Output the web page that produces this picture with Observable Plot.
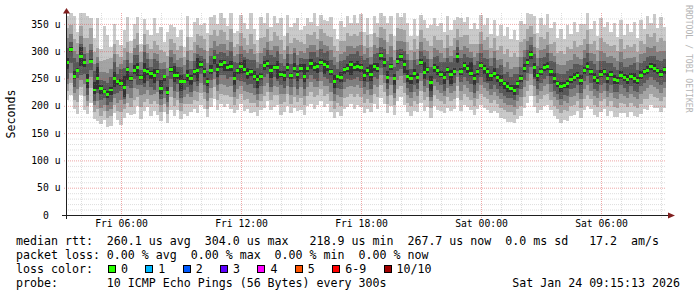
<!DOCTYPE html>
<html>
<head>
<meta charset="utf-8">
<script src="https://cdn.jsdelivr.net/npm/d3@7"></script>
<script src="https://cdn.jsdelivr.net/npm/@observablehq/plot@0.6"></script>
<style>
html, body { margin: 0; padding: 0; background: #fff; overflow: hidden; }
#wrap { position: relative; width: 697px; height: 297px; font-family: "DejaVu Sans Mono", monospace; color: #000; }
#chart { position: absolute; left: 0; top: 0; }
#ylabel { position: absolute; left: -19.5px; top: 107.5px; width: 60px; height: 12px; line-height: 12px; font-size: 11.626px; text-align: center; transform: rotate(-90deg); white-space: pre; }
#wm { position: absolute; left: 693px; top: 5px; font-size: 8.15px; line-height: 8.15px; color: #b4b4b4; transform-origin: 0 0; transform: rotate(90deg); white-space: pre; }
#legend { position: absolute; left: 16px; top: 233.7px; font-size: 11.626px; line-height: 14px; white-space: pre; }
#legend div { height: 14px; }
.sq { display: inline-block; width: 8px; height: 8px; box-sizing: border-box; border: 1px solid #000; margin-left: 1px; margin-right: 5px; }
.lab { margin-right: 16.4px; }
</style>
</head>
<body>
<div id="wrap">
  <div id="chart"></div>
  <div id="ylabel">Seconds</div>
  <div id="wm">RRDTOOL / TOBI OETIKER</div>
  <div id="legend"></div>
</div>
<script>
// ---- time axis (hours since Fri 00:00), 10-minute steps ----
const startHour = 3.25;        // Fri 03:15
const stepMinutes = 10;

// ---- median RTT (microseconds), one per step ----
const median = [
280,304,253,265,291,280,247,282,229,250,
232,226,220,229,250,244,241,234,266,250,
265,271,252,265,263,260,255,262,232,253,
225,266,255,256,245,245,256,250,262,265,
276,262,245,265,288,267,276,280,271,272,
250,265,272,266,260,262,253,249,254,274,
278,265,271,270,258,255,271,255,268,257,
268,254,268,278,270,272,280,276,272,262,
245,253,252,266,268,276,270,272,270,256,
265,257,272,268,292,280,252,272,250,282,
290,276,254,250,259,252,280,261,266,242,
270,265,258,252,266,258,262,290,262,274,
268,260,250,262,273,268,262,255,260,252,
246,240,236,232,228,240,250,268,280,294,
270,255,262,270,272,262,250,240,235,238,
240,248,252,256,246,265,272,262,252,246,
258,262,250,258,248,246,256,252,248,254,
250,246,255,262,265,272,268,264,258,266
];

// ---- smoke: distance (microseconds) of the 10 sorted pings from the median,
//      [below: p1, p2, p3, p4, p5, above: p6, p7, p8, p9, p10] per step ----
const spread = [
[70,52,40,30,12,8,26,44,62,84],[84,62,44,26,6,4,12,28,44,66],[58,42,30,18,4,10,34,48,70,112],
[80,58,34,14,3,4,16,30,50,70],[72,56,44,34,18,16,22,36,56,80],[88,62,40,22,8,5,14,28,44,90],
[62,48,38,28,14,12,30,50,78,118],[76,50,30,16,4,3,20,32,60,78],[54,40,28,20,8,14,34,48,70,96],
[78,56,42,26,20,22,28,40,56,110],[66,50,36,22,10,6,16,30,50,72],[52,36,24,12,3,4,20,36,58,120],
[58,42,30,18,6,8,22,40,66,110],[66,48,34,22,10,6,24,38,58,78],[64,48,36,28,16,12,30,44,64,100],
[70,54,38,20,5,4,14,28,50,76],[76,52,30,14,4,8,26,36,48,70],[56,40,30,22,18,20,36,50,72,104],
[80,60,44,30,18,6,18,32,50,96],[66,52,36,18,4,4,12,28,46,68],[80,54,32,16,6,10,28,40,58,84],
[72,54,40,32,16,8,22,40,62,92],[76,54,32,14,4,4,14,28,46,62],[74,58,44,30,24,14,34,46,66,94],
[66,50,34,18,6,6,22,34,50,76],[78,56,40,26,10,4,12,26,44,70],[64,46,34,26,14,12,30,42,64,106],
[78,58,36,16,4,6,20,32,50,72],[60,44,30,20,10,16,36,46,70,112],[64,50,38,26,8,4,14,28,46,64],
[56,40,28,18,6,10,30,44,66,110],[74,50,32,16,4,6,24,36,56,82],[74,56,40,28,12,18,24,40,60,90],
[64,46,30,16,6,6,16,28,46,70],[70,54,40,30,18,12,26,42,64,94],[60,42,28,16,4,4,14,30,44,62],
[74,52,34,22,10,10,28,44,70,108],[62,46,34,24,12,6,18,32,52,76],[68,52,34,18,6,6,20,34,54,92],
[78,56,40,28,20,22,30,46,66,96],[74,52,34,18,6,6,16,30,52,72],[68,50,36,24,10,8,24,40,60,90],
[66,50,36,22,8,6,18,34,56,88],[68,50,32,18,6,10,26,40,64,98],[76,54,38,26,12,4,14,30,50,78],
[74,56,40,28,14,10,28,42,60,82],[72,54,36,20,6,8,22,38,62,96],[82,60,42,24,16,4,16,34,56,80],
[68,52,36,22,8,6,20,32,50,76],[78,56,36,20,8,10,28,44,68,98],[64,48,34,24,12,12,30,42,58,84],
[72,52,34,18,6,4,14,30,48,72],[68,50,36,26,14,8,22,38,62,94],[76,56,38,22,6,18,24,36,58,86],
[66,48,34,22,10,10,26,36,52,80],[76,56,38,22,8,6,22,42,70,108],[64,48,34,20,6,10,30,42,60,88],
[68,52,38,28,16,8,20,32,48,72],[62,46,32,18,6,6,22,42,70,108],[78,56,38,22,8,8,18,32,52,78],
[70,52,36,20,6,6,24,38,62,96],[72,54,40,30,14,10,28,38,54,80],[74,52,34,18,6,4,18,38,64,94],
[68,50,36,24,20,12,30,40,58,82],[74,54,36,20,6,6,20,36,62,102],[66,48,34,22,10,8,18,30,48,72],
[72,50,34,20,8,8,24,38,62,96],[68,52,36,20,6,6,22,40,60,90],[72,52,34,18,6,10,28,38,56,84],
[66,50,38,26,12,6,18,36,64,104],[76,54,34,18,6,8,20,32,48,70],[70,52,36,24,10,22,32,42,60,92],
[68,50,34,18,6,4,18,38,64,92],[74,52,34,22,10,8,20,34,52,76],[76,54,36,20,6,10,28,42,66,100],
[70,52,38,26,12,6,18,30,50,74],[72,50,34,18,6,6,24,38,60,86],[78,58,40,24,18,8,20,36,58,82],
[68,50,36,22,8,10,28,38,56,84],[74,54,36,20,6,6,22,40,64,100],[68,50,36,24,12,12,30,44,64,96],
[64,48,34,20,6,4,14,28,48,70],[70,52,36,22,8,10,30,42,66,104],[72,52,36,22,8,6,18,32,52,78],
[70,52,34,18,6,8,24,42,66,96],[72,54,40,28,20,6,18,34,52,76],[76,54,36,20,6,8,24,36,62,96],
[70,50,34,20,8,10,28,38,56,80],[72,54,38,24,8,6,22,42,66,98],[70,50,34,22,10,10,28,38,54,80],
[70,52,36,22,8,6,22,40,64,96],[68,52,38,26,12,18,20,32,50,74],[68,50,34,20,8,6,22,40,62,92],
[74,52,34,18,6,10,28,38,58,84],[78,54,36,22,8,4,16,32,52,78],[76,54,38,24,8,8,24,40,60,84],
[66,48,34,22,10,12,30,42,64,100],[72,52,34,20,6,4,18,38,60,92],[66,48,36,26,12,8,22,34,52,78],
[74,52,34,18,6,6,20,36,60,88],[74,54,36,22,8,4,14,28,50,72],[74,52,34,20,16,8,24,40,62,94],
[66,48,34,22,10,12,30,40,62,98],[68,50,36,24,10,6,18,34,52,78],[68,50,34,20,6,8,24,40,64,100],
[64,48,34,22,10,8,22,34,52,76],[74,52,34,20,6,6,20,36,58,86],[70,50,36,24,12,20,30,42,64,96],
[68,50,34,18,6,6,20,34,52,76],[64,46,34,26,14,12,30,44,68,106],[70,50,34,20,8,6,20,36,58,90],
[72,52,36,22,8,8,26,38,56,82],[68,50,34,20,6,6,22,38,62,94],[66,48,34,24,12,10,28,36,54,84],
[70,50,34,18,6,6,22,40,64,98],[68,50,34,22,18,8,22,34,52,80],[68,50,34,20,6,8,26,40,62,96],
[76,54,38,26,12,6,18,30,50,72],[72,52,34,18,6,8,26,40,64,98],[72,52,36,22,8,6,20,36,56,80],
[70,52,36,22,8,6,22,38,62,94],[68,50,34,20,6,20,28,38,54,80],[66,50,36,26,12,8,24,40,64,102],
[68,50,34,20,6,6,20,34,52,78],[72,52,34,20,6,8,24,40,62,94],[72,52,36,24,10,6,20,34,52,80],
[70,50,34,20,16,8,24,40,64,98],[68,50,36,24,10,6,18,32,50,76],[70,50,34,22,8,10,28,40,64,98],
[66,48,34,22,8,6,18,32,50,76],[68,50,34,22,10,10,28,40,64,102],[64,48,34,22,10,6,18,32,54,88],
[66,48,34,22,10,8,26,44,68,108],[62,44,30,18,6,6,20,36,58,90],[60,44,30,18,8,10,30,44,68,110],
[64,46,32,20,8,6,18,32,50,80],[68,50,34,20,6,6,22,40,66,106],[72,52,34,20,6,8,22,34,54,82],
[74,52,34,20,6,6,22,38,60,92],[76,56,36,22,8,6,18,32,52,74],[72,52,34,20,18,8,24,38,62,94],
[68,50,36,24,10,6,18,32,50,78],[70,50,34,20,6,8,26,40,64,98],[70,50,34,20,6,6,20,34,52,78],
[70,50,32,18,6,8,24,40,64,96],[70,52,36,22,8,6,20,34,52,80],[68,50,34,22,8,10,30,42,66,104],
[64,46,30,18,6,6,20,36,56,84],[66,48,34,22,10,8,24,40,66,106],[64,46,30,18,6,6,20,36,56,84],
[68,50,34,22,8,8,24,42,68,108],[66,48,32,18,6,6,20,36,56,84],[68,50,34,20,6,8,24,42,66,102],
[66,48,32,18,6,6,20,34,52,80],[68,50,34,22,8,10,28,40,66,104],[72,52,34,20,6,6,22,38,58,84],
[72,52,34,18,6,8,24,42,66,98],[68,50,34,20,6,6,20,34,52,78],[68,50,34,22,8,8,24,42,66,104],
[66,48,32,18,6,6,20,36,56,82],[70,50,34,20,6,8,24,42,66,102],[68,50,34,20,6,6,20,34,54,82],
[68,50,34,22,8,10,28,40,64,104],[68,50,34,20,6,6,20,34,52,78],[68,50,34,22,8,8,24,40,64,104],
[66,50,34,20,6,6,20,36,54,80],[70,50,34,18,6,8,24,42,66,102],[66,48,34,20,6,6,20,34,52,78],
[68,50,34,22,8,8,24,40,64,102],[66,48,32,18,6,6,20,34,54,82],[68,50,34,22,8,10,28,40,64,104],
[66,50,34,20,6,6,20,34,52,78],[70,52,34,18,6,8,24,40,64,102],[68,50,34,20,6,6,20,34,52,78],
[72,52,32,18,6,8,24,42,66,100],[70,50,34,20,6,6,20,34,54,80],[72,52,34,20,6,8,24,42,66,100],
[68,50,34,20,6,6,20,34,52,78],[70,50,34,20,6,8,24,42,66,104],[70,50,34,22,8,6,20,34,52,78]
];

// ---- axes ----
const yTicks = [0, 50, 100, 150, 200, 250, 300, 350];
const yTickLabels = ["0\u00a0\u00a0", "50 u", "100 u", "150 u", "200 u", "250 u", "300 u", "350 u"];
const xTicks = [6, 12, 18, 24, 30];
const xTickLabels = ["Fri 06:00", "Fri 12:00", "Fri 18:00", "Sat 00:00", "Sat 06:00"];

// ---- legend ----
const lossLabels = ["0", "1", "2", "3", "4", "5", "6-9", "10/10"];
const lossColors = ["#26ff00", "#00b8ff", "#0059ff", "#5e00ff", "#ff00ff", "#ff5500", "#ff0000", "#a10000"];
const statsLine = "median rtt:  260.1 us avg  304.0 us max   218.9 us min  267.7 us now  0.0 ms sd   17.2  am/s";
const lossLine = "packet loss: 0.00 % avg  0.00 % max  0.00 % min  0.00 % now";
const probeLine = "probe:       10 ICMP Echo Pings (56 Bytes) every 300s                  Sat Jan 24 09:15:13 2026";

const smokeColors = ["#cacaca", "#a4a4a4", "#7e7e7e", "#585858", "#323232"];

const rows = median.map((m, i) => {
  const s = spread[i];
  return {
    t0: startHour + i * stepMinutes / 60,
    t1: startHour + (i + 1) * stepMinutes / 60,
    med: m,
    p: [m - s[0], m - s[1], m - s[2], m - s[3], m - s[4], m + s[5], m + s[6], m + s[7], m + s[8], m + s[9]]
  };
});

const xDomain = [startHour, startHour + median.length * stepMinutes / 60];
const yDomain = [0, 370];
const yLabelOf = new Map(yTicks.map((v, i) => [v, yTickLabels[i]]));
const xLabelOf = new Map(xTicks.map((v, i) => [v, xTickLabels[i]]));

const minorY = d3.range(10, 370, 10).filter(v => v % 50 !== 0);
const minorX = d3.range(4, 34).filter(v => v % 6 !== 0);

function axisLines(index, scales, values, dims) {
  const g = d3.create("svg:g");
  const xl = dims.marginLeft, xr = dims.width - dims.marginRight;
  const yb = dims.height - dims.marginBottom, yt = dims.marginTop;
  g.append("line").attr("x1", xl - 4).attr("x2", xr + 3).attr("y1", yb + 0.5).attr("y2", yb + 0.5)
    .attr("stroke", "#1f1f1f");
  g.append("line").attr("x1", xl + 0.5).attr("x2", xl + 0.5).attr("y1", yb + 4).attr("y2", yt - 1)
    .attr("stroke", "#1f1f1f");
  g.append("path").attr("d", `M${xr + 2},${yb - 2.5}L${xr + 9},${yb + 0.5}L${xr + 2},${yb + 3.5}Z`).attr("fill", "#801f1f");
  g.append("path").attr("d", `M${xl - 3},${yt + 0.5}L${xl + 0.5},${yt - 5}L${xl + 4},${yt + 0.5}Z`).attr("fill", "#801f1f");
  return g.node();
}

const smoke = smokeColors.map((c, k) => Plot.rect(rows, {
  x1: "t0", x2: "t1",
  y1: d => d.p[k], y2: d => d.p[9 - k],
  fill: c, clip: true, shapeRendering: "crispEdges"
}));

const chart = Plot.plot({
  width: 697,
  height: 234,
  marginLeft: 66,
  marginRight: 31,
  marginTop: 13,
  marginBottom: 19,
  style: { background: "#fff", color: "#000", fontFamily: "DejaVu Sans Mono, monospace", fontSize: "9.73px", overflow: "visible" },
  x: { type: "linear", domain: xDomain },
  y: { type: "linear", domain: yDomain },
  marks: [
    ...smoke,
    Plot.rect(rows, {
      x1: "t0", x2: "t1",
      y1: d => d.med - 2.7, y2: d => d.med + 2.7,
      fill: lossColors[0], shapeRendering: "crispEdges"
    }),
    Plot.gridY(minorY, { stroke: "#8f8f8f", strokeOpacity: 0.3, strokeDasharray: "1,1" }),
    Plot.gridX(minorX, { stroke: "#8f8f8f", strokeOpacity: 0.3, strokeDasharray: "1,1", insetBottom: -3 }),
    Plot.gridY(yTicks.filter(v => v > 0), { stroke: "#de4f4f", strokeOpacity: 0.5, strokeDasharray: "1,1", insetLeft: -2 }),
    Plot.gridX(xTicks, { stroke: "#de4f4f", strokeOpacity: 0.5, strokeDasharray: "1,1", insetBottom: -3 }),
    Plot.axisY(yTicks, { tickFormat: d => yLabelOf.get(d), tickSize: 0, tickPadding: 6 }),
    Plot.axisX(xTicks, { tickFormat: d => xLabelOf.get(d), tickSize: 0, tickPadding: 5 }),
    axisLines
  ]
});
document.getElementById("chart").append(chart);

// legend rows
const legend = document.getElementById("legend");
const r1 = document.createElement("div"); r1.textContent = statsLine; legend.append(r1);
const r2 = document.createElement("div"); r2.textContent = lossLine; legend.append(r2);
const r3 = document.createElement("div"); r3.append("loss color:  ");
lossLabels.forEach((lab, i) => {
  const sq = document.createElement("span"); sq.className = "sq"; sq.style.background = lossColors[i];
  const t = document.createElement("span"); t.className = "lab"; t.textContent = lab;
  r3.append(sq, t);
});
legend.append(r3);
const r4 = document.createElement("div"); r4.textContent = probeLine; legend.append(r4);
</script>
</body>
</html>
